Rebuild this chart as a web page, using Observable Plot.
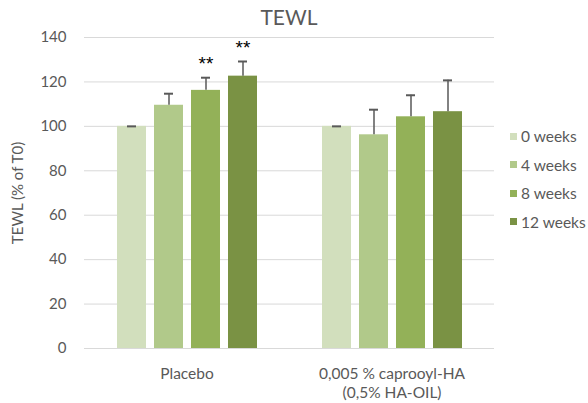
<!DOCTYPE html>
<html>
<head>
<meta charset="utf-8">
<script src="https://cdn.jsdelivr.net/npm/d3@7"></script>
<script src="https://cdn.jsdelivr.net/npm/@observablehq/plot@0.6"></script>
<style>
  body { margin: 0; background: #fff; }
  #wrap { position: relative; width: 588px; height: 403px; font-family: Lato, "Open Sans", sans-serif; color: #595959; }
  #title { position: absolute; left: 84px; width: 410px; top: 4px; text-align: center; font-size: 21px; }
  #legend { position: absolute; left: 510px; top: 122px; font-size: 15.5px; }
  .item { display: flex; align-items: center; height: 28.5px; }
  .sw { width: 7px; height: 7px; margin-right: 4px; }
</style>
</head>
<body>
<div id="wrap">
  <div id="chart"></div>
  <div id="title">TEWL</div>
  <div id="legend"></div>
</div>
<script>
const groups = ["Placebo", "0,005 % caprooyl-HA\n(0,5% HA-OIL)"];
const weeks = ["0 weeks", "4 weeks", "8 weeks", "12 weeks"];
const colors = ["#d2dfbd", "#b1c98a", "#93b158", "#7a9244"];
const placeboValues = [100, 109.5, 116.2, 122.6];
const placeboErrors = [0, 5.2, 5.7, 6.6];
const placeboSig = ["", "", "**", "**"];
const caproylValues = [100, 96.2, 104.3, 106.6];
const caproylErrors = [0, 11.3, 9.7, 14.1];
const caproylSig = ["", "", "", ""];
const yTicks = [0, 20, 40, 60, 80, 100, 120, 140];

const data = [];
weeks.forEach((w, i) => data.push({group: groups[0], week: w, value: placeboValues[i], err: placeboErrors[i], sig: placeboSig[i]}));
weeks.forEach((w, i) => data.push({group: groups[1], week: w, value: caproylValues[i], err: caproylErrors[i], sig: caproylSig[i]}));

const chart = Plot.plot({
  width: 588,
  height: 403,
  marginLeft: 84,
  marginRight: 94,
  marginTop: 37,
  marginBottom: 55,
  style: {fontFamily: "Lato, 'Open Sans', sans-serif", fontSize: "15px", color: "#595959"},
  fx: {domain: groups, padding: 0, label: null},
  x: {domain: weeks, paddingInner: 0.22, paddingOuter: 0.86, axis: null},
  y: {domain: [0, 140], ticks: yTicks, label: "TEWL (% of T0)", labelAnchor: "center", labelOffset: 72, labelArrow: "none", tickSize: 0, tickPadding: 18},
  color: {domain: weeks, range: colors},
  marks: [
    Plot.gridY(yTicks, {stroke: "#d9d9d9", strokeOpacity: 1, strokeWidth: 1}),
    Plot.barY(data, {fx: "group", x: "week", y: "value", fill: "week"}),
    Plot.ruleX(data, {fx: "group", x: "week", y1: "value", y2: d => d.value + d.err, stroke: "#595959", strokeWidth: 1.5}),
    Plot.tickY(data, {fx: "group", x: "week", y: d => d.value + d.err, stroke: "#595959", strokeWidth: 2, insetLeft: 10, insetRight: 10}),
    Plot.text(data, {fx: "group", x: "week", y: d => d.value + d.err, text: "sig", dy: -14, fontSize: 19, fontFamily: "Liberation Sans", fill: "black", fontWeight: "normal"}),
    Plot.axisFx({anchor: "bottom", tickSize: 0, tickPadding: 18, fontSize: 15.5, lineHeight: 1.17, label: null, textAnchor: "middle", lineAnchor: "top"})
  ]
});
document.getElementById("chart").appendChild(chart);

const legend = document.getElementById("legend");
weeks.forEach((w, i) => {
  const item = document.createElement("div");
  item.className = "item";
  item.innerHTML = `<span class="sw" style="background:${colors[i]}"></span><span>${w}</span>`;
  legend.appendChild(item);
});
</script>
</body>
</html>
